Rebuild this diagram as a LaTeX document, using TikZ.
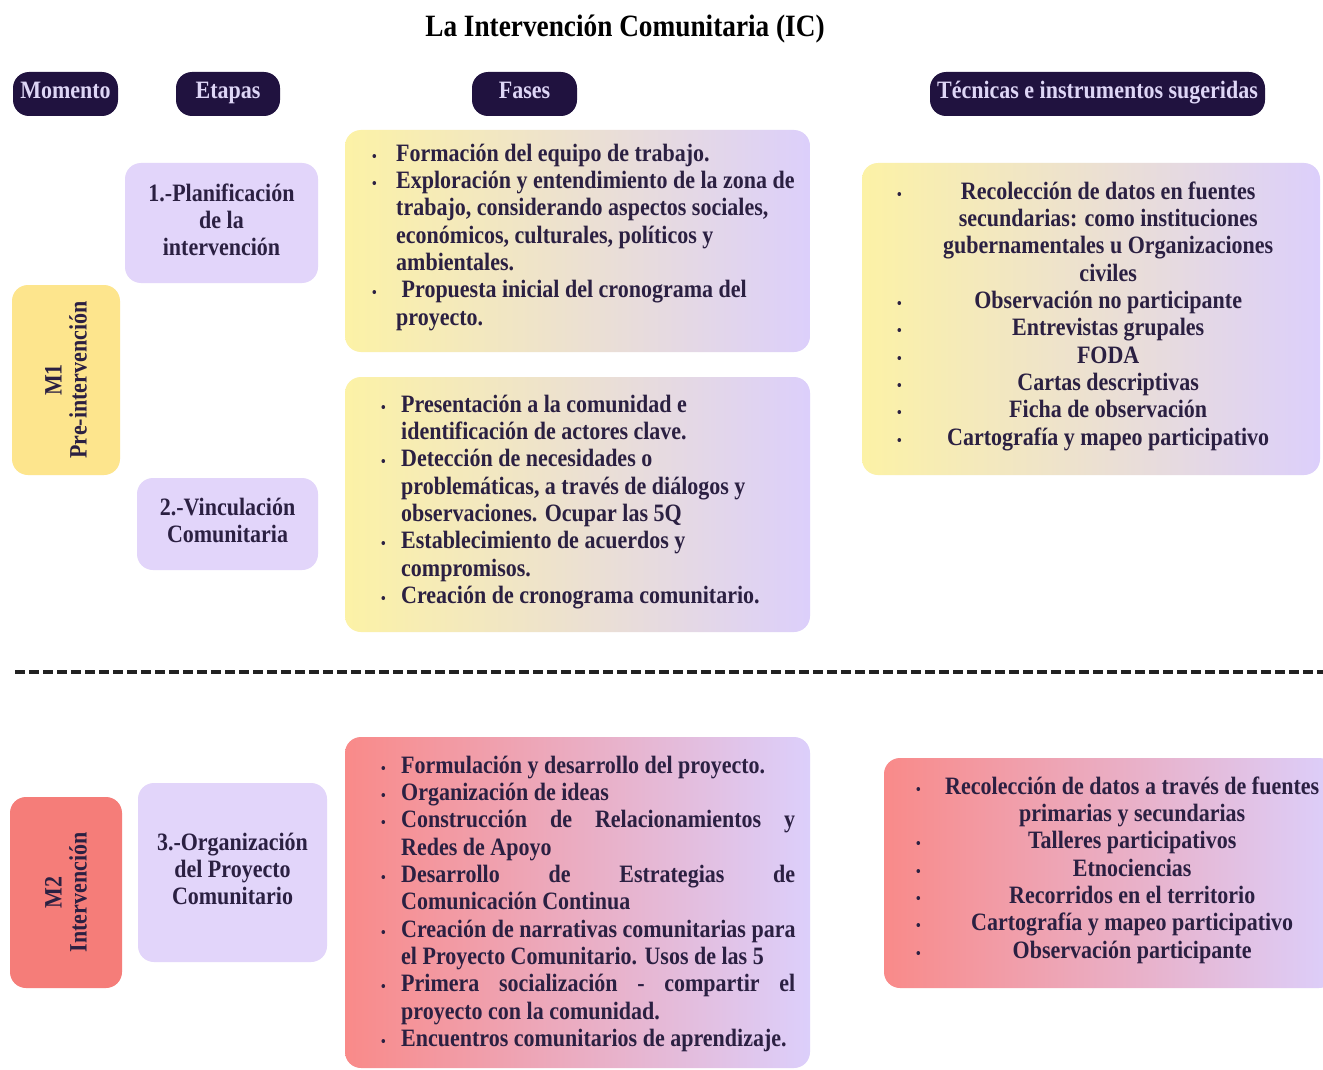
\documentclass[tikz,border=0pt]{standalone}
\usepackage{fontspec}
\setmainfont{Liberation Serif}[FakeStretch=0.88]
\definecolor{hdrfill}{HTML}{20123F}
\definecolor{hdrtext}{HTML}{DED6F6}
\definecolor{ink}{HTML}{2B2042}
\definecolor{lav}{HTML}{E2D5FA}
\definecolor{lavgrad}{HTML}{DCCFFB}
\definecolor{sun}{HTML}{FDE58D}
\definecolor{sungrad}{HTML}{FCF2A6}
\definecolor{coral}{HTML}{F57D79}
\definecolor{coralgrad}{HTML}{F98A89}
\definecolor{rule}{HTML}{222222}
% bullet marker of a given column width
\newcommand\bulw[1]{\makebox[#1][l]{\fontsize{15}{15}\selectfont\textbullet}}
\begin{document}
\begin{tikzpicture}[x=1pt,y=-1pt,
  every node/.style={font=\bfseries\fontsize{25}{27.3}\selectfont, text=ink, inner sep=0pt},
  hdr/.style={fill=hdrfill, text=hdrtext, rounded corners=16pt, minimum height=44pt, text height=18pt, text depth=8pt},
  stagebox/.style={fill=lav, rounded corners=16pt},
  stagetext/.style={align=center, font=\bfseries\fontsize{25}{27}\selectfont},
  momentbox/.style={rounded corners=16pt},
  sunshade/.style={left color=sungrad, right color=lavgrad, rounded corners=16pt},
  coralshade/.style={left color=coralgrad, right color=lavgrad, rounded corners=16pt},
  listtext/.style={anchor=north west},
  dashline/.style={draw=rule, line width=4pt, dash pattern=on 10pt off 4pt}
]
\fill[white] (0,0) rectangle (1323,1070);
\useasboundingbox (0,0) rectangle (1323,1070);

% title
\node[text=black] (title) at (625,29) {\fontsize{31}{34}\selectfont La Intervención Comunitaria (IC)};

% column headers
\node[hdr, minimum width=105pt] (hmom) at (65.5,94) {Momento};
\node[hdr, minimum width=104pt] (heta) at (228,94) {Etapas};
\node[hdr, minimum width=105pt] (hfas) at (524.5,94) {Fases};
\node[hdr, minimum width=335pt] (htec) at (1097.5,94) {Técnicas e instrumentos sugeridas};

% moments
\node[momentbox, fill=sun, minimum width=108pt, minimum height=190pt] (m1) at (66,380) {};
\node[rotate=90, align=center, font=\bfseries\fontsize{25}{25}\selectfont] (m1t) at (m1.center) {M1\\Pre-intervención};
\node[momentbox, fill=coral, minimum width=112pt, minimum height=191pt] (m2) at (66,892.5) {};
\node[rotate=90, align=center, font=\bfseries\fontsize{25}{25}\selectfont] (m2t) at (m2.center) {M2\\Intervención};

% stages
\node[stagebox, minimum width=193pt, minimum height=120pt] (e1) at (221.5,223) {};
\node[stagetext] (e1t) at (221.5,220) {1.-Planificación\\de la\\intervención};
\node[stagebox, minimum width=181pt, minimum height=92pt] (e2) at (227.5,524) {};
\node[stagetext] (e2t) at (227.5,520) {2.-Vinculación\\Comunitaria};
\node[stagebox, minimum width=189pt, minimum height=179pt] (e3) at (232.5,872.5) {};
\node[stagetext] (e3t) at (232.5,869) {3.-Organización\\del Proyecto\\Comunitario};

% phases
\node[sunshade, minimum width=465pt, minimum height=222pt] (f1) at (577.5,241) {};
\node[listtext] (f1t) at (372,142) {\begin{tabular}{@{}l@{}l@{}}
\bulw{24pt} & Formación del equipo de trabajo.\\
\bulw{24pt} & Exploración y entendimiento de la zona de\\
 & trabajo, considerando aspectos sociales,\\
 & económicos, culturales, políticos y\\
 & ambientales.\\
\bulw{24pt} & \ Propuesta inicial del cronograma del\\
 & proyecto.
\end{tabular}};

\node[sunshade, minimum width=465pt, minimum height=255pt] (f2) at (577.5,504.5) {};
\node[listtext] (f2t) at (381,393) {\begin{tabular}{@{}l@{}l@{}}
\bulw{20pt} & Presentación a la comunidad e\\
 & identificación de actores clave.\\
\bulw{20pt} & Detección de necesidades o\\
 & problemáticas, a través de diálogos y\\
 & observaciones. Ocupar las 5Q\\
\bulw{20pt} & Establecimiento de acuerdos y\\
 & compromisos.\\
\bulw{20pt} & Creación de cronograma comunitario.
\end{tabular}};

\node[coralshade, minimum width=465pt, minimum height=331pt] (f3) at (577.5,902.5) {};
\node[listtext] (f3t) at (381,754) {\begin{tabular}{@{}l@{}l@{}}
\bulw{20pt} & Formulación y desarrollo del proyecto.\\
\bulw{20pt} & Organización de ideas\\
\bulw{20pt} & \makebox[394pt][s]{Construcción de Relacionamientos y}\\
 & Redes de Apoyo\\
\bulw{20pt} & \makebox[394pt][s]{Desarrollo de Estrategias de}\\
 & Comunicación Continua\\
\bulw{20pt} & Creación de narrativas comunitarias para\\
 & el Proyecto Comunitario. Usos de las 5\\
\bulw{20pt} & \makebox[394pt][s]{Primera socialización - compartir el}\\
 & proyecto con la comunidad.\\
\bulw{20pt} & Encuentros comunitarios de aprendizaje.
\end{tabular}};

% techniques
\node[sunshade, minimum width=458pt, minimum height=312pt] (t1) at (1091,319) {};
\node[listtext] (t1t) at (897,180) {\begin{tabular}{@{}l@{}l@{}}
\bulw{20pt} & \makebox[382pt]{Recolección de datos en fuentes}\\
 & \makebox[382pt]{secundarias: como instituciones}\\
 & \makebox[382pt]{gubernamentales u Organizaciones}\\
 & \makebox[382pt]{civiles}\\
\bulw{20pt} & \makebox[382pt]{Observación no participante}\\
\bulw{20pt} & \makebox[382pt]{Entrevistas grupales}\\
\bulw{20pt} & \makebox[382pt]{FODA}\\
\bulw{20pt} & \makebox[382pt]{Cartas descriptivas}\\
\bulw{20pt} & \makebox[382pt]{Ficha de observación}\\
\bulw{20pt} & \makebox[382pt]{Cartografía y mapeo participativo}
\end{tabular}};

\node[coralshade, minimum width=451pt, minimum height=230pt] (t2) at (1109.5,873) {};
\node[listtext] (t2t) at (916,775) {\begin{tabular}{@{}l@{}l@{}}
\bulw{20pt} & \makebox[392pt]{Recolección de datos a través de fuentes}\\
 & \makebox[392pt]{primarias y secundarias}\\
\bulw{20pt} & \makebox[392pt]{Talleres participativos}\\
\bulw{20pt} & \makebox[392pt]{Etnociencias}\\
\bulw{20pt} & \makebox[392pt]{Recorridos en el territorio}\\
\bulw{20pt} & \makebox[392pt]{Cartografía y mapeo participativo}\\
\bulw{20pt} & \makebox[392pt]{Observación participante}
\end{tabular}};

% divider between the two moments
\coordinate (dl1) at (15,672);
\coordinate (dl2) at (1323,672);
\draw[dashline] (dl1) -- (dl2);
\end{tikzpicture}
\end{document}
